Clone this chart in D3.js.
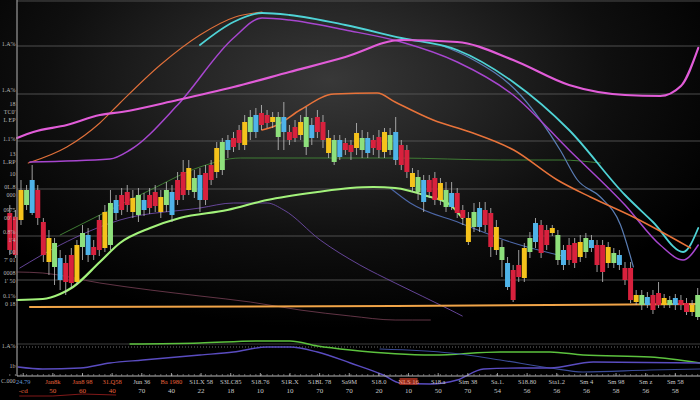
<!DOCTYPE html>
<html><head><meta charset="utf-8">
<script src="https://cdn.jsdelivr.net/npm/d3@7"></script>
<style>html,body{margin:0;padding:0;background:#000;overflow:hidden}</style>
</head><body><svg id="c" width="700" height="400"></svg>
<script>
// ---------- DATA ----------
// candles: [open, high, low, close]
const candles = [
[93.5,97.5,72.5,75],[91.5,95,71,72.5],[90,110,87.5,105],[105,107.5,95,97.5],[93.5,117.5,92.5,110],
[105,107.5,87.5,91],[89,91,69,72.5],[81,85,62.5,69],[78.5,81,57.5,66.5],[71,75,55,60],
[59,72.5,52.5,68.5],[72.5,76,56,58.5],[59,80,57.5,77.5],[76.5,87.5,70,83.5],[82.5,86,69,72.5],
[72.5,80,70,76.5],[75,92.5,72,90],[76,97.5,74,94],[77.5,105,75,98.5],[100,102.5,90,93.5],
[95,106,92.5,102.5],[97.5,107.5,94,104],[101,105,91,94],[92.5,106,89,102.5],[100,103.5,92,95],
[96,106,93,102.5],[97,107.5,94,104],[101.5,105,91,94],[97.5,109,94,105],[104,107.5,89,92.5],
[100,114,97.5,110],[102.5,120,100,114],[105,120,102.5,116],[111,115,101,104],[100,116,94,112.5],
[100,117.5,97.5,113.5],[110,120,107.5,117.5],[114,129,111,126],[115,131,112.5,129],[130,132.5,121,125],
[126.5,134,124,131],[128.5,137.5,125,135],[127.5,142.5,125,139],[134,145,130,141.5],[142.5,146,131,134],
[137.5,147.5,135,143.5],[142.5,145,136,138.5],[141.5,144,136,139],[141.5,144,125,131.5],[134,149,125,141.5],
[134,137.5,127.5,130],[131,140,129,136.5],[132.5,142.5,130,139],[141.5,146.5,122.5,126.5],[131,141,127.5,137.5],
[134,145,131,141.5],[139,142.5,126,130],[131,135,121,123.5],[130,132.5,117.5,119],[121.5,132.5,120,130],
[128.5,131,122.5,125],[127.5,130,120,124],[126,138.5,122.5,133.5],[131,135,121,125],[123.5,134,121,131],
[130,132.5,122.5,126],[125,135,121,131.5],[124,136,121,134],[132.5,136,122.5,125],[134,141.5,117.5,120],
[127.5,130,115,117.5],[125,127.5,111,114],[113.5,116,104,106.5],[111.5,115,100,104],[110,112.5,94,99],
[104,112.5,101,110],[111,114,97.5,100],[108.5,111,97.5,100],[105,109,94,96.5],[96.5,109,95,103.5],
[103.5,106,91,93.5],[95,97.5,87.5,91],[91,94,77.5,79],[86.5,98.5,84,94],[96,99,84,86.5],
[87.5,99,84,95],[93.5,96,71.5,76.5],[86.5,90,72.5,75],[76.5,80,61.5,70],[68.5,71.5,55,56.5],
[65,67.5,49,50],[61.5,75,59,67.5],[61,78.5,59,76],[74,84,71,81],[79,91,76,88.5],
[87.5,90,71,73.5],[77.5,87.5,75,85],[86,87.5,82,83.5],[82.5,85,67.5,70],[75,77.5,65,67.5],
[70,81,67.5,77.5],[78.5,81,66,68.5],[71.5,82.5,69,79],[74,83.5,71,81],[80,82.5,74,76],
[77.5,80,64,67.5],[77.5,80,59,64],[68.5,79,66,76.5],[73.5,76,66,68.5],[72.5,75,65,67.5],
[66,69,57.5,60],[66,69,48.5,50],[52.5,55,47.5,49],[47.5,55,45,52.5],[51.5,54,46,47.5],
[52.5,55,43,45],[47.5,59,46,53.5],[51,53,46,47.5],[50,52,46,47.5],[47.5,53,45,51],
[50,52.5,45,47.5],[48.5,51,42.5,44],[44,50,42,47.5],[41.5,56,40,52.5]
];

// overlay lines in the price panel: [candle index, value]
const pinkLine   = [[1.3,131],[4.2,134],[10.2,137.5],[16.1,142.5],[20,144],[30,150],[40,156.5],[50,164],[60,171.5],[70,180],[80,179],[90,170],[100,157.5],[110,152.5],[116.3,152],[120,157],[123.1,176]];
const cyanLine   = [[34,177.5],[40,189],[45.1,193.5],[50,192.5],[60,187.5],[70,181],[80,175],[90,159],[100,135],[110,102.5],[115,89],[120.4,74],[123.1,86]];
const violetLine = [[3.6,119],[17.9,120.5],[21.5,125],[30,147.5],[40,181],[45.1,191],[50,190],[60,185],[70,179],[80,169],[90,152.5],[100,125],[110,97.5],[116.3,77.5],[120.4,70],[123.1,77.5]];
const orangeThin = [[3.3,118.5],[10.2,126.5],[16.1,138.5],[19.7,148.5],[26.9,167.5],[34,182.5],[40.3,191.5],[45.1,194]];
const orangeLine = [[45.1,135],[47.8,137.5],[51.9,145],[58,153],[65.7,153.5],[68.9,149],[75.7,140],[82.3,134],[90.1,125],[97.9,110],[103.8,101.5],[111.5,91.5],[116.9,83.5],[121.7,76]];
const steelLine  = [[77,177.5],[82.3,171],[91.3,152.5],[98.4,125],[101.5,110],[105.6,101.5],[109.2,87.5],[111.5,66.5]];
const lightGreen = [[1.3,50],[5.9,50.5],[9,53],[11.3,56.5],[16.1,69],[19.7,78.5],[25.1,86],[30.4,91],[38.9,95],[46,100],[55,104],[60.9,106],[65,106.5],[68.9,106],[74.6,102],[78.8,97.5],[80.9,91]];
const darkGreen  = [[9,82.5],[16.1,92.5],[25.1,105],[34,116.5],[41.2,121],[51.9,121],[68.9,121],[87.7,120],[98.4,120],[105.6,118.5]];
const purpleLine = [[1.8,66],[9,77.5],[19.7,90],[34,96],[40,98.5],[46,98.5],[49,95],[55.5,80],[62.6,67.5],[68.9,58.5],[78.8,45],[80.9,42]];
const slateLine  = [[68,106],[71.6,98.5],[80.5,88.5],[89.5,79],[96.6,73.5],[98.8,72]];
const mauveLine  = [[1.3,64],[5.9,63.5],[16.1,58.5],[25.1,55],[34,52],[43,49],[51.9,45],[60.9,42],[68.9,40],[75.2,40]];
const flatOrange = [[3.6,46.5],[68.9,47],[123.5,48]];

// lower indicator panel
const lowGreen  = [[21.5,32],[34,33],[44.8,35],[50.1,35],[55,30],[60.9,26],[75.7,21],[87.7,24],[96.6,24],[102.5,21],[114.5,19],[123.5,13]];
const lowBlue   = [[1.5,9],[5.9,7],[12.6,8],[17.9,13],[23.8,16],[34,21],[40,24],[46,29],[50.1,29],[55,24],[60.9,13],[66.8,1],[69.8,-7],[75.2,-8],[80,-4],[84.7,7],[91.3,8],[96.6,8],[104.3,14],[123.5,13]];
const lowNavy   = [[66.2,27],[78.8,23],[87.7,16],[96.6,8],[102.5,4],[114.5,6],[123.5,7]];
const lowRefSolid = 32, lowRefDotted = 29;

// grid levels and labels
const gridLevels = [199.5, 177, 153, 129.5, 105.5, 82, 60];
const leftLabels = [[178,"1.A%"],[155,"1.A%"],[148,"18"],[144,"TC0'"],[140,"L EP"],[130.5,"1.1%"],
  [123,"13"],[119,"L.RP"],[113,"10"],[106.5,"0L.8"],[102.5,"000"],[95,"0975"],[91,"00' 1"],
  [84,"0.8%"],[80,"1'4"],[74,"00"],[70,"7' 01"],[63.5,"0008"],[59.5,"1' 50"],[52,"0.1%"],[48,"0 18"]];
const lowLabels = [[30,"1.A%"],[10,"1b"],[-5,"C.000"]];
const xTopLabels = ["24.79","Jan8k","Jan8 98","31.Q58","Jun 36","Ba 1980","S1LX 58","S3LC85","S18.76","S1R.X","S1BL 78","Sa9M",
  "S18.0","NLS 16","S18.a","Sim 38","Sa.1.","S18.80","Sta1.2","Sm 4","Sm 98","Sm z","Sm 58"];
const xBotLabels = ["-cd","50","60","40","70","40","22","18","10","10","70","70","20","10","50","70","54","56","56","56","58","56","58"];

// ---------- DRAW ----------
const W = 700, H = 400;
const svg = d3.select("#c");
const x = d3.scaleLinear().domain([0, candles.length - 1]).range([9.8, 697.7]);
const y = d3.scaleLinear().domain([0, 200]).range([400, 0]);
const yLow = d3.scaleLinear().domain([0, 40]).range([376, 336]);
const tickIdx = d3.range(xTopLabels.length).map(k => 2.4 + 5.3 * k);
const plotL = 17, plotR = 700, baseY = yLow(0);

const defs = svg.append("defs");
const rg = defs.append("radialGradient").attr("id","bg").attr("cx","0.47").attr("cy","0.2").attr("r","0.62");
[[0,"#383838"],[0.3,"#262626"],[0.65,"#0f0f0f"],[1,"#000"]].forEach(([o,c]) => rg.append("stop").attr("offset",o).attr("stop-color",c));
svg.append("rect").attr("width",W).attr("height",H).attr("fill","url(#bg)");

// grid
svg.append("g").selectAll("line").data(gridLevels).join("line")
  .attr("x1",plotL).attr("x2",plotR).attr("y1",d=>y(d)).attr("y2",d=>y(d))
  .attr("stroke","#5a5a5a").attr("stroke-width",1).attr("opacity",0.85);

// lower panel reference lines
svg.append("line").attr("x1",plotL).attr("x2",plotR).attr("y1",yLow(lowRefSolid)).attr("y2",yLow(lowRefSolid))
  .attr("stroke","#3e3e3e").attr("stroke-width",1);
svg.append("line").attr("x1",plotL).attr("x2",plotR).attr("y1",yLow(lowRefDotted)).attr("y2",yLow(lowRefDotted))
  .attr("stroke","#8a8a8a").attr("stroke-width",0.8).attr("stroke-dasharray","1,2");

const lineMain = d3.line().x(d=>x(d[0])).y(d=>y(d[1])).curve(d3.curveMonotoneX);
const lineLow = d3.line().x(d=>x(d[0])).y(d=>yLow(d[1])).curve(d3.curveMonotoneX);
function draw(gen, data, color, w, op) {
  svg.append("path").datum(data).attr("d", gen).attr("fill","none")
    .attr("stroke", color).attr("stroke-width", w).attr("opacity", op || 1)
    .attr("stroke-linecap","round").attr("stroke-linejoin","round");
}
draw(lineLow, lowGreen, "#5cc23e", 1.5);
draw(lineLow, lowNavy, "#3b4c98", 1.2);
draw(lineLow, lowBlue, "#5a4cc0", 1.4);

draw(lineMain, mauveLine, "#6b3a4c", 1, 0.9);
draw(lineMain, purpleLine, "#6e4aa6", 1, 0.9);
draw(lineMain, slateLine, "#4d68a8", 1.1);
draw(lineMain, darkGreen, "#3f7c34", 1);
draw(lineMain, lightGreen, "#a3f27b", 2.2);
draw(lineMain, flatOrange, "#f0a448", 2);
draw(lineMain, orangeThin, "#e0703a", 1.1);
draw(lineMain, steelLine, "#5a7db4", 1.2);
draw(lineMain, violetLine, "#a746cf", 1.5);
draw(lineMain, cyanLine, "#4fd3d6", 1.8);
draw(lineMain, orangeLine, "#e8733a", 1.5);
draw(lineMain, pinkLine, "#e15cd8", 2.2);

// candles
const palette = ["#d8213d","#f26b2a","#f5c21b","#d8213d","#4fb3e8","#63cf45","#f07aa8","#d8213d","#f59a2a","#8ee07c","#e8407a","#f5a8c8"];
const colorFor = i => palette[(i * 7 + Math.floor(i / 5)) % palette.length];
const cw = 5;
const cg = svg.append("g");
cg.selectAll("line").data(candles).join("line")
  .attr("x1",(d,i)=>x(i)).attr("x2",(d,i)=>x(i))
  .attr("y1",d=>y(d[1])).attr("y2",d=>y(d[2]))
  .attr("stroke","#c4c4c4").attr("stroke-width",1).attr("opacity",0.8);
cg.selectAll("rect").data(candles).join("rect")
  .attr("x",(d,i)=>x(i)-cw/2).attr("width",cw)
  .attr("y",d=>y(Math.max(d[0],d[3])))
  .attr("height",d=>Math.max(1.5, Math.abs(y(d[0])-y(d[3]))))
  .attr("fill",(d,i)=>colorFor(i));

// axes
svg.append("line").attr("x1",plotL).attr("x2",plotL).attr("y1",0).attr("y2",baseY)
  .attr("stroke","#9a9a9a").attr("stroke-width",1.2);
svg.append("line").attr("x1",plotL).attr("x2",plotR).attr("y1",baseY).attr("y2",baseY)
  .attr("stroke","#b8b8b8").attr("stroke-width",1);
svg.append("g").selectAll("line").data(d3.range(candles.length)).join("line")
  .attr("x1",d=>x(d)).attr("x2",d=>x(d)).attr("y1",baseY).attr("y2",baseY-2)
  .attr("stroke","#8a8a8a").attr("stroke-width",0.7);

const font = "'Liberation Serif','DejaVu Serif',serif";
// left labels
svg.append("g").selectAll("text").data(leftLabels).join("text")
  .attr("x",15.5).attr("y",d=>y(d[0])+2).attr("text-anchor","end")
  .attr("font-family",font).attr("font-size",6).attr("fill","#b5b5b5").text(d=>d[1]);
svg.append("g").selectAll("text").data(lowLabels).join("text")
  .attr("x",15.5).attr("y",d=>yLow(d[0])+2).attr("text-anchor","end")
  .attr("font-family",font).attr("font-size",6).attr("fill","#b5b5b5").text(d=>d[1]);

// x labels
const topColor = k => k === 0 ? "#5e92d6" : ([1,2,3,5].includes(k) ? "#e8643c" : (k === 13 ? "#f3a080" : "#c9c9c9"));
const botColor = k => ([0,1,2,3].includes(k) ? "#e8643c" : "#c9c9c9");
const hl = 13;
svg.append("rect").attr("x",x(tickIdx[hl])-9).attr("y",baseY+2).attr("width",18).attr("height",7)
  .attr("fill","#a8301f").attr("opacity",0.85);
svg.append("g").selectAll("line").data(tickIdx).join("line")
  .attr("x1",d=>x(d)).attr("x2",d=>x(d)).attr("y1",baseY).attr("y2",baseY-3)
  .attr("stroke","#bbb").attr("stroke-width",0.8);
svg.append("g").selectAll("text").data(xTopLabels).join("text")
  .attr("x",(d,k)=>x(tickIdx[k])).attr("y",baseY+8).attr("text-anchor","middle")
  .attr("font-family",font).attr("font-size",6.5).attr("fill",(d,k)=>topColor(k)).text(d=>d);
svg.append("g").selectAll("text").data(xBotLabels).join("text")
  .attr("x",(d,k)=>x(tickIdx[k])).attr("y",baseY+17).attr("text-anchor","middle")
  .attr("font-family",font).attr("font-size",7).attr("fill",(d,k)=>botColor(k)).text(d=>d);
// red bracket under first labels
svg.append("path").attr("fill","none").attr("stroke","#8e1c1c").attr("stroke-width",0.9)
  .attr("d", d3.line()([[x(tickIdx[0])-4, baseY+20],[x(tickIdx[1]), baseY+20],[x(tickIdx[2]), baseY+18],[x(tickIdx[3])+4, baseY+19]]));
</script>
</body></html>
